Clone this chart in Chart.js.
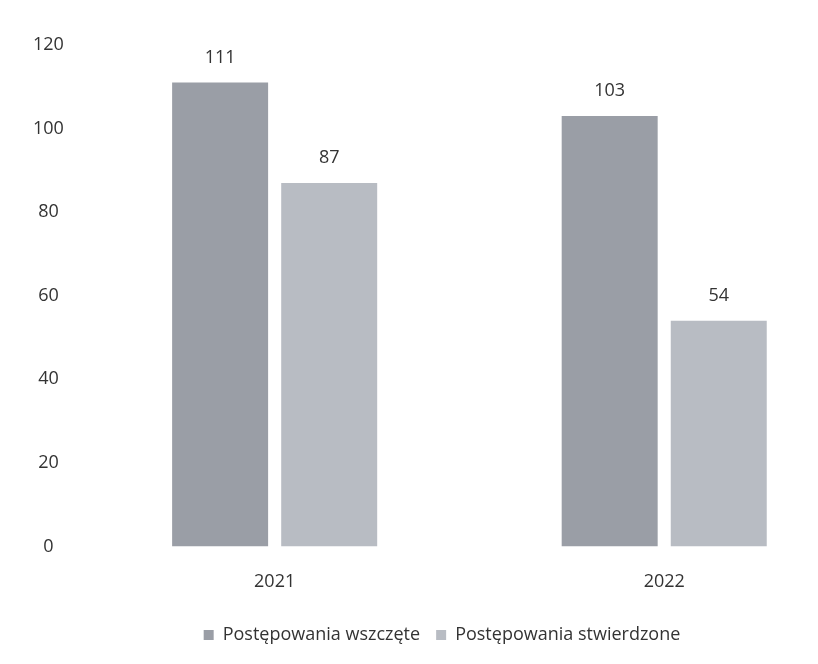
<!DOCTYPE html>
<html lang="pl">
<head>
<meta charset="utf-8">
<title>Postępowania 2021–2022</title>
<script src="https://cdn.jsdelivr.net/npm/chart.js@4/dist/chart.umd.min.js"></script>
<style>
  html, body { margin: 0; padding: 0; background: #fff; overflow: hidden; }
  #wrap { width: 880px; height: 664px; }
</style>
</head>
<body>
<div id="wrap"><canvas id="wykres" width="880" height="664"></canvas></div>
<script>
// dane
const LATA = ['2021', '2022'];
const WSZCZETE = [111, 103];
const STWIERDZONE = [87, 54];
const SERIE = ['Postępowania wszczęte', 'Postępowania stwierdzone'];

const KOLOR_CIEMNY = '#9a9ea6';
const KOLOR_JASNY = '#b8bcc3';
const TEKST = '#333333';
const FONT = '"Open Sans", "DejaVu Sans", sans-serif';

// etykiety wartosci nad slupkami
const etykiety = {
  id: 'etykiety',
  afterDatasetsDraw(chart) {
    const ctx = chart.ctx;
    ctx.save();
    ctx.font = '18px ' + FONT;
    ctx.fillStyle = TEKST;
    ctx.textAlign = 'center';
    ctx.textBaseline = 'middle';
    chart.data.datasets.forEach((ds, i) => {
      chart.getDatasetMeta(i).data.forEach((bar, j) => {
        ctx.fillText(String(ds.data[j]), bar.x, bar.y - 25);
      });
    });
    ctx.restore();
  }
};

new Chart(document.getElementById('wykres'), {
  type: 'bar',
  data: {
    labels: LATA,
    datasets: [
      { label: SERIE[0], data: WSZCZETE, backgroundColor: KOLOR_CIEMNY },
      { label: SERIE[1], data: STWIERDZONE, backgroundColor: KOLOR_JASNY }
    ]
  },
  options: {
    responsive: false,
    animation: false,
    datasets: { bar: { barPercentage: 0.88, categoryPercentage: 0.56 } },
    layout: { padding: { left: 25, right: 21, top: 45, bottom: 10 } },
    plugins: {
      legend: {
        position: 'bottom',
        labels: {
          font: { size: 18, family: FONT }, color: TEKST,
          boxWidth: 10, boxHeight: 10, padding: 16
        }
      },
      tooltip: { enabled: false }
    },
    scales: {
      x: {
        grid: { display: false }, border: { display: false },
        ticks: { font: { size: 18, family: FONT }, color: TEKST, padding: 17 }
      },
      y: {
        min: 0, max: 120,
        grid: { display: false }, border: { display: false },
        ticks: {
          stepSize: 20, font: { size: 18, family: FONT }, color: TEKST,
          padding: 8, crossAlign: 'center'
        }
      }
    }
  },
  plugins: [etykiety]
});
</script>
</body>
</html>
